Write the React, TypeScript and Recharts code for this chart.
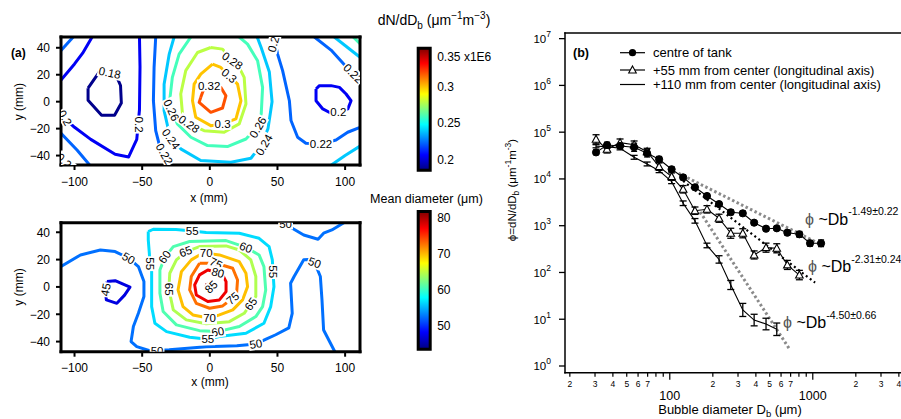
import React from 'react';
import { ComposedChart, Line, Scatter, XAxis, YAxis, ErrorBar, ReferenceArea } from 'recharts';

const FONT = '"Liberation Sans", Arial, Helvetica, sans-serif';

// ---------------- Panel (a) top : dN/dDb contours (x mm, y mm) ----------------
const xTicksA = [-100, -50, 0, 50, 100];
const yTicksA = [-40, -20, 0, 20, 40];

const t018 = [[-90,10],[-90,1],[-80,-10],[-70.4,-10],[-65.4,-1],[-66,12],[-69,19],[-75,22],[-81,23],[-90,10]];
const t020a = [[-110,16],[-100,28],[-94,36],[-87,48]];
const t020b = [[-110,-10],[-100,-19],[-88,-28],[-70,-39],[-60,-41],[-54,-28],[-52,-6],[-51.6,26],[-52,48]];
const t020r = [[78.5,9.4],[78.5,0.7],[83.5,-5.4],[89.6,-8.6],[95.8,-8],[102,-5.4],[104.4,0.7],[100.7,5.7],[95.8,10.6],[89.6,11.9],[81,11.9],[78.5,9.4]];
const t022a = [[-110,38],[-101,48]];
const t022b = [[-110,-23.5],[-98,-36],[-88,-48]];
const t022c = [[-40,48],[-41.2,25.4],[-41.7,0.7],[-40,-21.5],[-37.5,-31.4],[-33,-39],[-27.7,-48]];
const t022d = [[47.5,48],[50.1,35.3],[53.8,23],[58.8,0.7],[60,-14],[64.9,-26.4],[71,-30.9],[82,-31.5],[93.3,-28.4],[101.9,-22.7],[111,-19]];
const t022e = [[77.3,48],[89.6,38.3],[102,24.7],[111,16]];
const t024a = [[-26.4,48],[-30,35.3],[-33.8,13],[-33.8,-6.7],[-31,-19],[-28,-28],[-21.5,-35],[-6.7,-43.7],[15.6,-45],[30.4,-42],[38,-32],[43,-20],[46,0],[44,22],[38,40],[35,48]];
const t024b = [[92,48],[111,33]];
const t024c = [[88.4,-48],[100,-40],[111,-33]];
const t026a = [[-14,48],[-22.7,35.3],[-27.7,18],[-29.4,3.2],[-28.4,-6.2],[-24,-16.5],[-14,-26.4],[-1.7,-32.6],[13,-33.3],[26.7,-27.7],[34,-20],[38,-9],[39,10.6],[35.3,30.4],[27.9,42.7],[21.7,48]];
const t026b = [[106,48],[111,43]];
const t028 = [[0.7,40.2],[-9.1,36.5],[-17.8,23],[-21.5,5.7],[-20.2,-9.1],[-15.3,-16.5],[-4.2,-21.5],[10.6,-22.7],[21.7,-16.5],[26.7,-1.7],[25.4,18],[20.5,27.9],[16.8,30.4],[9.4,39],[0.7,40.2]];
const t030 = [[2,27.9],[-6.7,20.5],[-11.6,13],[-12.8,0.7],[-10.4,-11.6],[0.7,-17.8],[9.4,-16.5],[19.3,-12.8],[23,0.7],[20.5,13],[14.3,19.3],[8.1,25.4],[2,27.9]];
const t032 = [[-6.7,3.2],[-7.9,-0.5],[0.7,-7.9],[9.4,-4.7],[11.9,4.4],[8.1,10.6],[-0.5,11.9],[-5,8],[-6.7,3.2]];

const topLabels = [
  { text: '0.18', x: -74, y: 21.5 }, { text: '0.2', x: -52, y: -17 }, { text: '0.2', x: -107, y: -12 },
  { text: '0.22', x: -33.5, y: -38.8 }, { text: '0.24', x: -28.6, y: -27.7 }, { text: '0.26', x: -28.4, y: -6.2 },
  { text: '0.28', x: -15.3, y: -16.5 }, { text: '0.3', x: 9.4, y: -16.5 }, { text: '0.32', x: -0.5, y: 12 },
  { text: '0.3', x: 14.3, y: 19.3 }, { text: '0.28', x: 16.8, y: 30.4 }, { text: '0.26', x: 35.5, y: -19 },
  { text: '0.24', x: 40, y: -32 }, { text: '0.22', x: 82.2, y: -31.4 }, { text: '0.2', x: 95, y: -7.9 },
  { text: '0.22', x: 106, y: 21 }, { text: '0.22', x: 47.5, y: 45 }, { text: '0.24', x: -106, y: -45.5 },
];
const topLabelAngles = [12, 90, 60, 60, 55, 65, 35, 0, 0, 40, 35, -60, -60, 0, 0, 45, -75, 45];

// ---------------- Panel (a) bottom : mean diameter contours ----------------
const b45 = [[-76,3.9],[-70,4.6],[-59,-0.2],[-63,-6],[-68.7,-12],[-76.5,-9.5],[-77,-3],[-76,3.9]];
const b50a = [[-110,14.9],[-95.6,23.4],[-80.9,27],[-70,25.9],[-60,21],[-52.8,14.9],[-48.7,3.9],[-48.7,-7],[-52.8,-19.3],[-56.5,-29],[-58.2,-40],[-54,-43.7],[-45,-46.5],[-30,-46],[-2.7,-43.7],[20,-43],[34,-41.7],[42,-38],[48.7,-35],[58.4,-30],[60.9,-19.3],[59.7,2.7],[62.3,7.6],[69.4,19.8],[73,20],[77.5,17.8],[81.7,7.6],[82.9,-9.5],[84.1,-31.5],[92.7,-48]];
const b50b = [[52,48],[60.9,42.9],[69.4,38],[80,34.9],[84.1,39.3],[90.2,41.7],[100,47.5]];
const b55 = [[-45.5,40.5],[-41.8,42.2],[-25,42],[-13,41],[-2.7,39.8],[21.8,39.3],[36.4,35.6],[43.8,29.5],[46.2,19.8],[46.7,11.2],[47.4,0.2],[45,-14.4],[40,-26.6],[26.7,-33.9],[7,-36.3],[-1.5,-38.3],[-14.9,-36.8],[-32,-32.7],[-40.6,-26.6],[-43,-14.4],[-43,2.7],[-43,12.4],[-44.3,17.3],[-44.7,24.6],[-45.5,34.4],[-45.5,40.5]];
const b60 = [[-33.3,21.7],[-27,29.5],[-14.9,33.2],[12,33.9],[26.7,29],[36.4,23.4],[40,14.9],[41.3,-2.2],[39,-14.4],[34,-21.7],[21.8,-29],[5.9,-32.7],[-7.6,-32],[-24.7,-27.8],[-34.5,-18],[-36.9,-4.6],[-36.9,12.4],[-33.3,21.7]];
const b65 = [[-17.4,25.9],[-7.6,29.5],[12,30],[21.8,27],[30.3,19.8],[34,7.6],[34,-7],[30.3,-12.4],[25.4,-19.3],[14.4,-25.4],[-2.7,-27],[-17.4,-24.1],[-27,-16.8],[-30.3,-1.7],[-29.6,10],[-24.7,19.8],[-17.4,25.9]];
const b70 = [[-2.7,24.6],[7.1,23.4],[21.8,18.5],[26.7,10],[27.9,0.2],[24.2,-9.5],[17,-16.8],[7.1,-20.5],[-0.2,-22.9],[-12.5,-20.5],[-19.8,-14.4],[-23.5,-2.2],[-21,11.2],[-13.7,19.8],[-7.6,23.4],[-2.7,24.6]];
const b75 = [[-7.6,17.3],[4.6,17.3],[16.9,13.7],[20.5,5.1],[19.8,-4.6],[16.9,-8.3],[9.5,-13.9],[-0.2,-15.6],[-10,-12],[-14.9,-2.2],[-13.7,7.6],[-7.6,17.3]];
const b80 = [[5.9,10.5],[-1.5,12.4],[-7.6,8.8],[-11.2,1.5],[-10,-5.9],[-1.5,-10.7],[7.1,-9.5],[12,-3.4],[12,3.9],[9.5,8.8],[5.9,10.5]];
const b85 = [[-2,2.5],[0.5,1],[-0.5,-1.5],[-3,0],[-2,2.5]];

const botLabels = [
  { text: '45', x: -77, y: -2 }, { text: '50', x: -60, y: 21 }, { text: '55', x: -44.3, y: 17 },
  { text: '60', x: -33.5, y: 22 }, { text: '65', x: -18, y: 26 }, { text: '70', x: -2.7, y: 24.6 },
  { text: '75', x: 4.6, y: 17.3 }, { text: '80', x: 6, y: 10.5 }, { text: '85', x: 1, y: 0 },
  { text: '75', x: 16.9, y: -8.3 }, { text: '70', x: -0.2, y: -23 }, { text: '65', x: 30.3, y: -12.4 },
  { text: '65', x: -30.3, y: -1.7 }, { text: '60', x: 5.9, y: -32.7 }, { text: '55', x: -1.5, y: -38.3 },
  { text: '50', x: 34, y: -41.7 }, { text: '55', x: 46.7, y: 11.2 }, { text: '60', x: 26.7, y: 29 },
  { text: '55', x: -13, y: 41 }, { text: '50', x: 77.5, y: 17.8 }, { text: '50', x: 56, y: 46.5 },
  { text: '50', x: -39, y: -47 },
];
const botLabelAngles = [-80, 30, 90, -55, -20, 0, 25, 15, -45, -40, 0, -55, 90, -10, 0, -10, 90, 20, 0, 20, 0, 0];

// colour bars
const cbTopDomain = [0.185, 0.352];
const cbTopTicks = [0.2, 0.25, 0.3, 0.35];
const cbBotDomain = [43.4, 81.7];
const cbBotTicks = [50, 60, 70, 80];

// ---------------- Panel (b) : size distributions ----------------
const bins = [30.5, 36.4, 44.9, 56.3, 69.4, 84.2, 103, 124, 150, 182, 221, 267, 324, 389, 471, 560, 664, 806, 957, 1143];
const centrePhi = [37000, 53000, 50700, 47500, 35400, 26300, 16100, 10800, 6630, 4320, 2900, 1940, 1840, 1160, 863, 880, 709, 655, 421, 421];
const centreErr = [0.12, 0.15, 0.12, 0.22, 0.2, 0.15, 0.12, 0.12, 0.12, 0.12, 0.12, 0.12, 0.12, 0.1, 0.1, 0.1, 0.12, 0.15, 0.15, 0.18];
const phi55 = [70500, 43000, 59600, 54000, 38300, 18300, 11200, 6010, 2094, 2240, 1442, 689, 689, 237, 339, 329, 145, 88];
const err55 = [0.25, 0.2, 0.2, 0.2, 0.18, 0.2, 0.2, 0.2, 0.2, 0.2, 0.22, 0.28, 0.25, 0.22, 0.25, 0.25, 0.25, 0.26];
const phi110 = [50000, 49000, 45200, 29000, 20900, 15000, 8730, 3020, 1270, 378, 190, 54, 15.8, 9.6, 7.9, 6.1];
const err110 = [0.08, 0.08, 0.08, 0.1, 0.1, 0.1, 0.1, 0.12, 0.12, 0.12, 0.2, 0.25, 0.38, 0.33, 0.33, 0.36];
const fit1 = [[115, 13200], [1157, 387]];
const fit2 = [[124, 9040], [1038, 60.4]];
const fit3 = [[163, 1963], [694, 2.2]];

const xTicksB = [20, 30, 40, 50, 60, 70, 80, 90, 100, 200, 300, 400, 500, 600, 700, 800, 900, 1000, 2000, 3000, 4000];
const xTicksTop = [20, 30, 40, 50, 60, 70, 80, 90, 100, 200, 300, 400, 500, 600, 700, 800, 900, 1000, 2000, 3000];
const yTicksB = [1, 10, 100, 1e3, 1e4, 1e5, 1e6, 1e7];

// ---------------- styling helpers ----------------
const topColors: Record<string, string> = {
  '0.18': '#00008c', '0.2': '#0000f5', '0.22': '#0064ff', '0.24': '#00c8ff',
  '0.26': '#44ffbb', '0.28': '#bbff44', '0.3': '#ffc400', '0.32': '#ff5200',
};
const botColors: Record<string, string> = {
  '45': '#0000e0', '50': '#0070ff', '55': '#00dcff', '60': '#50ffb0', '65': '#b0ff50',
  '70': '#ffc000', '75': '#ff7000', '80': '#f00000', '85': '#a00000',
};

const topContours = [
  { level: '0.18', pts: t018 }, { level: '0.2', pts: t020a }, { level: '0.2', pts: t020b }, { level: '0.2', pts: t020r },
  { level: '0.22', pts: t022a }, { level: '0.22', pts: t022b }, { level: '0.22', pts: t022c }, { level: '0.22', pts: t022d },
  { level: '0.22', pts: t022e }, { level: '0.24', pts: t024a }, { level: '0.24', pts: t024b }, { level: '0.24', pts: t024c },
  { level: '0.26', pts: t026a }, { level: '0.26', pts: t026b }, { level: '0.28', pts: t028 }, { level: '0.3', pts: t030 },
  { level: '0.32', pts: t032 },
];
const botContours = [
  { level: '45', pts: b45 }, { level: '50', pts: b50a }, { level: '50', pts: b50b }, { level: '55', pts: b55 },
  { level: '60', pts: b60 }, { level: '65', pts: b65 }, { level: '70', pts: b70 }, { level: '75', pts: b75 },
  { level: '80', pts: b80 }, { level: '85', pts: b85 },
];

const toXY = (a: number[][]) => a.map(([x, y]) => ({ x, y }));
const withAngles = (labels: any[], angles: number[]) => labels.map((l, i) => ({ ...l, angle: angles[i] }));
const withErr = (xs: number[], ys: number[], es: number[]) =>
  ys.map((y, i) => ({ x: xs[i], y, e: [(y * es[i]) / (1 + es[i]), y * es[i]] }));

function ContourLabel(props: any) {
  const { cx, cy, payload } = props;
  if (cx == null || cy == null || !payload) return <g />;
  const t: string = payload.text;
  let w = 2;
  for (const ch of t) w += ch === '.' ? 3.2 : 6.4;
  return (
    <g transform={`translate(${cx},${cy}) rotate(${payload.angle})`}>
      <rect x={-w / 2} y={-6} width={w} height={12} fill="#ffffff" />
      <text x={0} y={0} dy="0.36em" textAnchor="middle" fontSize={11.5} fontFamily={FONT} fill="#000">{t}</text>
    </g>
  );
}

function ContourPanel({ top, margin, yDomain, contours, colors, labels }: any) {
  const axisLine: any = { stroke: '#000', strokeWidth: 3, strokeLinecap: 'square' };
  const tickLine: any = { stroke: '#000', strokeWidth: 2 };
  const tickStyle: any = { fontSize: 12, fill: '#000', fontFamily: FONT };
  const fmt = (v: number) => String(v).replace('-', '\u2212');
  return (
    <div style={{ position: 'absolute', left: 0, top }}>
      <ComposedChart width={400} height={200} margin={margin}>
        <XAxis type="number" dataKey="x" domain={[-110, 111]} allowDataOverflow ticks={xTicksA} interval={0} height={30}
          tickSize={5} tickMargin={7} axisLine={axisLine} tickLine={tickLine} tick={tickStyle} tickFormatter={fmt} />
        <XAxis xAxisId="t" orientation="top" type="number" domain={[-110, 111]} allowDataOverflow ticks={xTicksA} interval={0}
          height={7} tickSize={5} axisLine={axisLine} tickLine={tickLine} tick={false} />
        <YAxis type="number" dataKey="y" domain={yDomain} allowDataOverflow ticks={yTicksA} interval={0} width={41}
          tickSize={5} tickMargin={6} axisLine={axisLine} tickLine={tickLine} tick={tickStyle} tickFormatter={fmt} />
        <YAxis yAxisId="r" orientation="right" type="number" domain={yDomain} allowDataOverflow ticks={yTicksA} interval={0}
          width={10} tickSize={5} axisLine={axisLine} tickLine={tickLine} tick={false} />
        {contours.map((c: any, i: number) => (
          <Line key={i} data={toXY(c.pts)} dataKey="y" type="linear" stroke={colors[c.level]} strokeWidth={3}
            strokeLinejoin="round" dot={false} activeDot={false} isAnimationActive={false} />
        ))}
        <Scatter data={labels} shape={ContourLabel} isAnimationActive={false} />
      </ComposedChart>
    </div>
  );
}

function ColorBar({ top, margin, domain, ticks, topText }: any) {
  const Tick = (p: any) => {
    const v = p.payload.value;
    const isTop = !!topText && v === ticks[ticks.length - 1];
    return (
      <text x={p.x} y={p.y + (isTop ? 7 : 0)} dy="0.36em" fontSize={12} fontFamily={FONT} fill="#000">
        {isTop ? `${v} ${topText}` : String(v)}
      </text>
    );
  };
  return (
    <div style={{ position: 'absolute', left: 400, top }}>
      <ComposedChart width={100} height={200} margin={margin}>
        <XAxis type="number" dataKey="x" domain={[0, 1]} hide />
        <YAxis type="number" dataKey="y" orientation="right" domain={domain} allowDataOverflow ticks={ticks} interval={0}
          width={60} axisLine={false} tickLine={false} tickSize={0} tickMargin={7} tick={Tick} />
        <Line data={[{ x: 0, y: domain[0] }, { x: 1, y: domain[1] }]} dataKey="y" stroke="none" dot={false} isAnimationActive={false} />
        <ReferenceArea x1={0} x2={1} y1={domain[0]} y2={domain[1]} fill="url(#jetGrad)" fillOpacity={1} stroke="#000" strokeWidth={3} ifOverflow="visible" />
      </ComposedChart>
    </div>
  );
}

const BottomTick = (p: any) => {
  const { x, y, payload } = p;
  const v: number = payload.value;
  const major = v === 100 || v === 1000;
  const lead = String(v)[0];
  const showDigit = !major && lead !== '8' && lead !== '9';
  return (
    <g>
      <line x1={x} x2={x} y1={y} y2={y + (major ? 7 : 4)} stroke="#000" strokeWidth={1.2} />
      {showDigit && <text x={x} y={y + 14} textAnchor="middle" fontSize={8.5} fontFamily={FONT} fill="#000">{lead}</text>}
      {major && <text x={x} y={y + 27.5} textAnchor="middle" fontSize={12.5} fontFamily={FONT} fill="#000">{v}</text>}
    </g>
  );
};

const TopTick = (p: any) => {
  const { x, y, payload } = p;
  const v: number = payload.value;
  const major = v === 100 || v === 1000;
  return <line x1={x} x2={x} y1={y} y2={y - (major ? 9 : 4)} stroke="#000" strokeWidth={1.2} />;
};

const LeftTick = (p: any) => {
  const { x, y, payload } = p;
  const e = Math.round(Math.log10(payload.value));
  return (
    <g>
      <line x1={x} x2={x - 6} y1={y} y2={y} stroke="#000" strokeWidth={1.3} />
      <text x={x - 14} y={y + 4.5} textAnchor="end" fontSize={11.5} fontFamily={FONT} fill="#000">
        10<tspan dy={-6} fontSize={8.5}>{e}</tspan>
      </text>
    </g>
  );
};

const TriDot = (p: any) => {
  const { cx, cy, index } = p;
  if (cx == null || cy == null) return <g key={index} />;
  return <path key={index} d={`M${cx},${cy - 4}L${cx + 3.8},${cy + 3}L${cx - 3.8},${cy + 3}Z`} fill="#fff" stroke="#000" strokeWidth={1.1} />;
};

export default function App() {
  const centreRows = withErr(bins, centrePhi, centreErr);
  const rows55 = withErr(bins, phi55, err55);
  const rows110 = withErr(bins, phi110, err110);
  const bAxis: any = { stroke: '#000', strokeWidth: 1.5, strokeLinecap: 'square' };
  return (
    <div style={{ position: 'absolute', left: 0, top: 0, width: 901, height: 419, background: '#fff', overflow: 'hidden' }}>
      <ContourPanel top={0} margin={{ top: 30, right: 30, bottom: 5, left: 20 }} yDomain={[-47, 48]}
        contours={topContours} colors={topColors} labels={withAngles(topLabels, topLabelAngles)} />
      <ContourPanel top={190} margin={{ top: 25.7, right: 30, bottom: 8.3, left: 20 }} yDomain={[-47.4, 47]}
        contours={botContours} colors={botColors} labels={withAngles(botLabels, botLabelAngles)} />
      <ColorBar top={0} margin={{ top: 48.2, right: 9.8, bottom: 29.8, left: 18.2 }} domain={cbTopDomain} ticks={cbTopTicks} topText="x1E6" />
      <ColorBar top={190} margin={{ top: 21.5, right: 9.8, bottom: 40.8, left: 18.2 }} domain={cbBotDomain} ticks={cbBotTicks} />

      <div style={{ position: 'absolute', left: 500, top: 0 }}>
        <ComposedChart width={401} height={419} margin={{ top: 13, right: 0, bottom: 0, left: 0 }}>
          <XAxis type="number" dataKey="x" scale="log" domain={[18.5, 4140]} allowDataOverflow ticks={xTicksB} interval={0}
            height={46.3} axisLine={bAxis} tickLine={false} tickSize={0} tickMargin={0} tick={BottomTick} />
          <XAxis xAxisId="top" orientation="top" type="number" scale="log" domain={[18.5, 3100]} allowDataOverflow ticks={xTicksTop}
            interval={0} height={20} axisLine={bAxis} tickLine={false} tickSize={0} tickMargin={0} tick={TopTick} />
          <YAxis type="number" dataKey="y" scale="log" domain={[0.719, 1.32e7]} allowDataOverflow ticks={yTicksB} interval={0}
            width={65} axisLine={bAxis} tickLine={false} tickSize={0} tickMargin={0} tick={LeftTick} />
          <Line data={toXY(fit1)} dataKey="y" stroke="#8a8a8a" strokeWidth={3} strokeDasharray="2.5 2.5" dot={false} activeDot={false} isAnimationActive={false} />
          <Line data={toXY(fit3)} dataKey="y" stroke="#8a8a8a" strokeWidth={3} strokeDasharray="2.5 2.5" dot={false} activeDot={false} isAnimationActive={false} />
          <Line data={toXY(fit2)} dataKey="y" stroke="#000" strokeWidth={2.2} strokeDasharray="2 3" dot={false} activeDot={false} isAnimationActive={false} />
          <Line data={rows110} dataKey="y" stroke="#000" strokeWidth={1.1} dot={false} activeDot={false} isAnimationActive={false}>
            <ErrorBar dataKey="e" width={3.5} strokeWidth={1.3} stroke="#000" direction="y" />
          </Line>
          <Line data={rows55} dataKey="y" stroke="#000" strokeWidth={1.1} dot={TriDot} activeDot={false} isAnimationActive={false}>
            <ErrorBar dataKey="e" width={3.5} strokeWidth={1.3} stroke="#000" direction="y" />
          </Line>
          <Line data={centreRows} dataKey="y" stroke="#000" strokeWidth={1.1} dot={{ r: 3.6, fill: '#000', stroke: '#000', strokeWidth: 1 }} activeDot={false} isAnimationActive={false}>
            <ErrorBar dataKey="e" width={3} strokeWidth={1.3} stroke="#000" direction="y" />
          </Line>
        </ComposedChart>
      </div>

      <svg width={901} height={419} style={{ position: 'absolute', left: 0, top: 0, pointerEvents: 'none' }} fontFamily={FONT} fill="#000">
        <defs>
          <linearGradient id="jetGrad" x1="0" y1="1" x2="0" y2="0">
            <stop offset="0" stopColor="#000080" />
            <stop offset="0.125" stopColor="#0000ff" />
            <stop offset="0.375" stopColor="#00ffff" />
            <stop offset="0.625" stopColor="#ffff00" />
            <stop offset="0.875" stopColor="#ff0000" />
            <stop offset="1" stopColor="#800000" />
          </linearGradient>
        </defs>
        {/* panel (a) */}
        <text x={11} y={57} fontSize={12} fontWeight="bold">(a)</text>
        <text x={23} y={101.7} fontSize={12} textAnchor="middle" transform="rotate(-90 23 101.7)">y (mm)</text>
        <text x={23} y={287} fontSize={12} textAnchor="middle" transform="rotate(-90 23 287)">y (mm)</text>
        <text x={209} y={202} fontSize={12} textAnchor="middle">x (mm)</text>
        <text x={210} y={386} fontSize={12} textAnchor="middle">x (mm)</text>
        <text x={434} y={25} fontSize={14} textAnchor="middle">
          dN/dD<tspan dy={3.5} fontSize={10}>b</tspan><tspan dy={-3.5}> (μm</tspan><tspan dy={-6} fontSize={10}>−1</tspan><tspan dy={6}>m</tspan><tspan dy={-6} fontSize={10}>−3</tspan><tspan dy={6}>)</tspan>
        </text>
        <text x={426.5} y={202.5} fontSize={12.5} textAnchor="middle">Mean diameter (μm)</text>

        {/* panel (b) */}
        <text x={573} y={57} fontSize={12.5} fontWeight="bold">(b)</text>
        <line x1={620} x2={645} y1={52.7} y2={52.7} stroke="#000" strokeWidth={1.2} />
        <circle cx={632.5} cy={52.7} r={3.6} fill="#000" />
        <text x={653} y={57.3} fontSize={13}>centre of tank</text>
        <line x1={620} x2={645} y1={70} y2={70} stroke="#000" strokeWidth={1.2} />
        <path d="M632.5,66L636.3,73L628.7,73Z" fill="#fff" stroke="#000" strokeWidth={1.1} />
        <text x={653} y={74.6} fontSize={13}>+55 mm from center (longitudinal axis)</text>
        <line x1={620} x2={645} y1={84.5} y2={84.5} stroke="#000" strokeWidth={1.2} />
        <text x={653} y={89.1} fontSize={13}>+110 mm from center (longitudinal axis)</text>

        <text x={805} y={225} fontSize={16}><tspan fill="#555">ϕ</tspan> ~Db<tspan dy={-10} fontSize={10.5}>-1.49±0.22</tspan></text>
        <text x={808} y={272} fontSize={16}><tspan fill="#555">ϕ</tspan> ~Db<tspan dy={-9} fontSize={10.5}>-2.31±0.24</tspan></text>
        <text x={783} y={328} fontSize={16}><tspan fill="#555">ϕ</tspan> ~Db<tspan dy={-9} fontSize={10.5}>-4.50±0.66</tspan></text>

        <text x={516} y={190} fontSize={11.5} textAnchor="middle" transform="rotate(-90 516 190)">
          ϕ=dN/dD<tspan dy={3} fontSize={8.5}>b</tspan><tspan dy={-3}> (μm</tspan><tspan dy={-5} fontSize={8.5}>-1</tspan><tspan dy={5}>m</tspan><tspan dy={-5} fontSize={8.5}>-3</tspan><tspan dy={5}>)</tspan>
        </text>
        <text x={730} y={414} fontSize={13} textAnchor="middle">
          Bubble diameter D<tspan dy={3} fontSize={9.5}>b</tspan><tspan dy={-3}> (μm)</tspan>
        </text>
      </svg>
    </div>
  );
}
